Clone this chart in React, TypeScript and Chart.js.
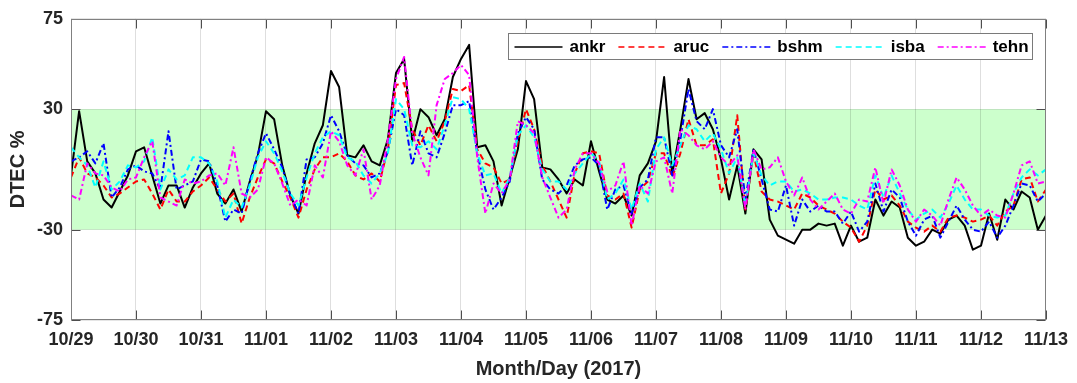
import React, { useEffect, useRef } from 'react';
import { Chart, registerables } from 'chart.js';

Chart.register(...registerables);

// ---- data (3-hour samples starting 10/29 00:00 UT) ----
const STEP_DAYS = 3 / 24;
const dayLabels = ['10/29', '10/30', '10/31', '11/01', '11/02', '11/03', '11/04', '11/05', '11/06', '11/07', '11/08', '11/09', '11/10', '11/11', '11/12', '11/13'];
const yTickValues = [-75, -30, 30, 75];
const bandRange = [-30, 30];
const seriesNames = ['ankr', 'aruc', 'bshm', 'isba', 'tehn'];

const ankr = [
  -3, 29, 4, -2, -15, -19, -11, -3,
  9, 11, -3, -17, -8, -8, -19, -9,
  -2, 3, -12, -17, -10, -21, -6, 7,
  29, 25, 2, -13, -22, -2, 13, 22,
  49, 41, 7, 6, 12, 4, 2, 15,
  48, 55, 14, 30, 26, 17, 25, 46,
  55, 62, 11, 12, 4, -18, -4, 10,
  44, 35, 1, 0, -5, -12, -5, -8,
  14, -1, -15, -17, -13, -23, -3, 3,
  14, 46, -2, 20, 45, 25, 28, 20,
  5, -15, 2, -22, 10, 5, -25, -33,
  -35, -37, -30, -30, -27, -28, -27, -38,
  -28, -36, -34, -15, -23, -16, -19, -34,
  -38, -36, -30, -32, -25, -23, -28, -40,
  -38, -22, -35, -15, -20, -11, -14, -30, -23,
];
const aruc = [
  -4, 6, -2, -4, -8, -14, -12, -9,
  -6, -5, -12, -20, -10, -16, -16, -11,
  -8, -4, -10, -16, -12, -27, -14, -4,
  5, 3, -6, -14, -24, -10, 0, 6,
  6, 8, 4, -3, -5, -2, -6, 10,
  42, 43, 20, 12, 22, 14, 24, 40,
  39, 42, 10, 3, 1, -7, -5, 14,
  30, 20, 2, -6, -15, -24, -2, 8,
  9, 8, -13, -15, -12, -29, -10, -6,
  8, 8, -4, 8, 25, 12, 12, 15,
  -12, -2, 27, -20, 8, -11, -15, -16,
  -18, -20, -12, -14, -18, -20, -22, -26,
  -29, -36, -28, -10, -15, -13, -18, -26,
  -29, -31, -28, -31, -24, -23, -24, -26,
  -25, -23, -28, -21, -18, -5, -4, -16, -10,
];
const bshm = [
  4, 6, 9, 3, 13, -14, -9, 0,
  2, -1, -2, -10, 19, -10, -8, -6,
  5, 4, -8, -26, -20, -22, -6, 8,
  18, 10, 1, -13, -22, 5, 6, 13,
  27, 19, 7, 3, 2, -4, -2, 9,
  30, 27, 2, 19, 8, 6, 18, 32,
  32, 34, 8, -10, -20, -14, -6, 18,
  26, 20, -5, -10, -12, -8, 2, 5,
  6, 2, -20, -10, -8, -22, -9, -5,
  16, 16, -3, 15, 40, 24, 20, 30,
  12, 6, 20, -15, 10, -5, -20, -21,
  -8, -28, -15, -21, -18, -21, -21, -27,
  -21, -31, -26, -7, -21, -10, -14, -26,
  -33, -25, -23, -34, -26, -18, -25, -30,
  -31, -26, -34, -28, -18, -7, -8, -16, -12,
];
const isba = [
  11, 6, 2, -9, 4, -10, -6, 2,
  1, 4, 16, -10, 0, -5, -3, 6,
  6, 3, -6, -24, -15, -19, -8, 6,
  14, 8, -1, -12, -18, -4, 8, 16,
  19, 17, 6, 4, -3, -7, -2, 8,
  35, 30, 12, 11, 14, 10, 22, 36,
  35, 30, 8, -3, -2, -12, -4, 17,
  22, 16, 0, -6, -6, -10, -2, 3,
  8, 4, -15, -12, -5, -20, -7, -16,
  10, 16, 2, 12, 22, 20, 14, 18,
  10, -2, 6, -18, 8, -3, -8, -6,
  -6, -11, -10, -12, -15, -15, -14, -14,
  -15, -18, -20, -3, -14, -3, -12, -20,
  -25, -22, -20, -24, -17, -8, -15, -20,
  -20, -23, -24, -23, -12, -4, 0, -3, 0,
];
const tehn = [
  -13, -15, 3, -2, -3, -9, -11, -5,
  -4, 6, 14, -14, -16, -18, -5, -7,
  -6, -3, -2, -8, 11, -12, -14, -10,
  6, 3, -7, -18, -15, -18, 2, -4,
  19, 14, 2, -3, 10, -15, -8, 15,
  45, 56, 18, 6, -3, 32, 45, 48,
  52, 47, 6, -22, -7, -12, -5, 24,
  22, 18, -4, -14, -24, -20, 0, 8,
  8, 3, -11, -8, 4, -28, -8, -12,
  4, 6, -12, 20, 17, 12, 10, 14,
  6, 2, 7, -20, 10, 0, 1, 6,
  -6, -13, -4, -15, -20, -16, -12, -20,
  -22, -15, -16, 1, -17, 0, -8, -20,
  -26, -20, -23, -28, -15, -4, -10, -18,
  -23, -20, -23, -24, -12, 2, 4, -7, -6,
];
const seriesValues = [ankr, aruc, bshm, isba, tehn];

// ---- styles ----
const FONT = '"Liberation Sans", Arial, Helvetica, sans-serif';
const TEXT = '#262626';
const seriesStyles = [
  { color: '#000000', dash: [] as number[] },
  { color: '#ff0000', dash: [6, 4] },
  { color: '#0000ff', dash: [6, 3, 2, 3] },
  { color: '#00ffff', dash: [6, 4] },
  { color: '#ff00ff', dash: [6, 3, 2, 3] },
];
const LINE_WIDTH = 2;

const bandPlugin = {
  id: 'band',
  beforeDraw(chart: any) {
    const { ctx, chartArea: a, scales } = chart;
    const y = scales.y;
    const top = y.getPixelForValue(bandRange[1]);
    const bot = y.getPixelForValue(bandRange[0]);
    ctx.save();
    ctx.fillStyle = '#ccffcc';
    ctx.fillRect(a.left, top, a.right - a.left, bot - top);
    ctx.restore();
  },
};

const framePlugin = {
  id: 'frame',
  afterDatasetsDraw(chart: any) {
    const { ctx, chartArea: a, scales } = chart;
    const x = scales.x;
    const y = scales.y;
    const L = Math.round(a.left) + 0.5;
    const R = Math.round(a.right) - 0.5;
    const T = Math.round(a.top) + 0.5;
    const B = Math.round(a.bottom) - 0.5;
    const len = 9;
    ctx.save();
    ctx.setLineDash([]);
    ctx.lineWidth = 1;
    ctx.strokeStyle = '#4d4d4d';
    ctx.beginPath();
    x.ticks.forEach((t: any) => {
      const px = Math.round(x.getPixelForValue(t.value)) + 0.5;
      ctx.moveTo(px, B);
      ctx.lineTo(px, B - len);
      ctx.moveTo(px, T);
      ctx.lineTo(px, T + len);
    });
    y.ticks.forEach((t: any) => {
      const py = Math.round(y.getPixelForValue(t.value)) + 0.5;
      ctx.moveTo(L, py);
      ctx.lineTo(L + len, py);
      ctx.moveTo(R, py);
      ctx.lineTo(R - len, py);
    });
    ctx.stroke();
    ctx.strokeStyle = '#808080';
    ctx.strokeRect(L, T, R - L, B - T);
    ctx.restore();
  },
};

const legendPlugin = {
  id: 'customLegend',
  afterDraw(chart: any) {
    const { ctx, chartArea: a } = chart;
    ctx.save();
    ctx.font = `bold 17px ${FONT}`;
    const lineLen = 48;
    const lineGap = 7;
    const itemGap = 13;
    const padL = 6;
    const padR = 4;
    const widths = seriesNames.map((n) => ctx.measureText(n).width);
    const total = padL + padR + widths.reduce((s, w) => s + lineLen + lineGap + w, 0) + itemGap * (seriesNames.length - 1);
    const right = Math.round(a.right - 14) + 0.5;
    const top = Math.round(a.top + 14) + 0.5;
    const height = 26;
    const left = Math.round(right - total) + 0.5;
    ctx.fillStyle = '#ffffff';
    ctx.fillRect(left, top, right - left, height);
    ctx.lineWidth = 1;
    ctx.strokeStyle = '#7a7a7a';
    ctx.setLineDash([]);
    ctx.strokeRect(left, top, right - left, height);
    const cy = top + height / 2;
    let xPos = left + padL;
    seriesNames.forEach((name, i) => {
      const st = seriesStyles[i];
      ctx.beginPath();
      ctx.strokeStyle = st.color;
      ctx.lineWidth = 1.5;
      ctx.setLineDash(st.dash);
      ctx.moveTo(xPos, Math.round(cy));
      ctx.lineTo(xPos + lineLen, Math.round(cy));
      ctx.stroke();
      ctx.setLineDash([]);
      ctx.fillStyle = '#000000';
      ctx.textAlign = 'left';
      ctx.textBaseline = 'middle';
      ctx.fillText(name, xPos + lineLen + lineGap, cy + 1);
      xPos += lineLen + lineGap + widths[i] + itemGap;
    });
    ctx.restore();
  },
};

export default function App() {
  const ref = useRef<HTMLCanvasElement>(null);

  useEffect(() => {
    const canvas = ref.current;
    if (!canvas) return;
    const datasets = seriesNames.map((name, i) => ({
      label: name,
      data: seriesValues[i].map((v, k) => ({ x: k * STEP_DAYS, y: v })),
      borderColor: seriesStyles[i].color,
      borderDash: seriesStyles[i].dash,
      borderWidth: LINE_WIDTH,
      borderJoinStyle: 'round' as const,
      pointRadius: 0,
      tension: 0,
      fill: false,
      order: seriesNames.length - i,
    }));

    const chart = new Chart(canvas, {
      type: 'line',
      data: { datasets },
      options: {
        responsive: false,
        animation: false,
        events: [],
        layout: { padding: { top: 12.5, right: 28, left: 0, bottom: 0 } },
        plugins: {
          legend: { display: false },
          tooltip: { enabled: false },
        },
        scales: {
          x: {
            type: 'linear',
            min: 0,
            max: dayLabels.length - 1,
            afterBuildTicks: (s: any) => {
              s.ticks = dayLabels.map((_, i) => ({ value: i }));
            },
            afterFit: (s: any) => {
              s.height = 63;
            },
            ticks: {
              autoSkip: false,
              maxRotation: 0,
              minRotation: 0,
              padding: 9,
              color: TEXT,
              font: { family: FONT, size: 18, weight: 'bold' },
              callback: (_v: any, i: number) => dayLabels[i],
            },
            grid: { color: 'rgba(0,0,0,0.13)', lineWidth: 1, drawTicks: false },
            border: { display: false },
            title: {
              display: true,
              text: 'Month/Day (2017)',
              color: TEXT,
              font: { family: FONT, size: 20, weight: 'bold' },
              padding: { top: 0, bottom: 2 },
            },
          },
          y: {
            type: 'linear',
            min: -75,
            max: 75,
            afterBuildTicks: (s: any) => {
              s.ticks = yTickValues.map((v) => ({ value: v }));
            },
            afterFit: (s: any) => {
              s.width = 71;
            },
            ticks: {
              padding: 8,
              color: TEXT,
              font: { family: FONT, size: 18, weight: 'bold' },
              callback: (v: any) => String(v),
            },
            grid: { color: 'rgba(0,0,0,0.10)', lineWidth: 1, drawTicks: false },
            border: { display: false },
            title: {
              display: true,
              text: 'DTEC %',
              color: TEXT,
              font: { family: FONT, size: 20, weight: 'bold' },
              padding: { top: 6, bottom: 0 },
            },
          },
        },
      },
      plugins: [bandPlugin, framePlugin, legendPlugin],
    });
    return () => chart.destroy();
  }, []);

  return (
    <div style={{ position: 'absolute', left: 0, top: 0, width: 1077, height: 383, background: '#ffffff' }}>
      <canvas ref={ref} width={1077} height={383} style={{ display: 'block', width: 1077, height: 383 }} />
    </div>
  );
}
